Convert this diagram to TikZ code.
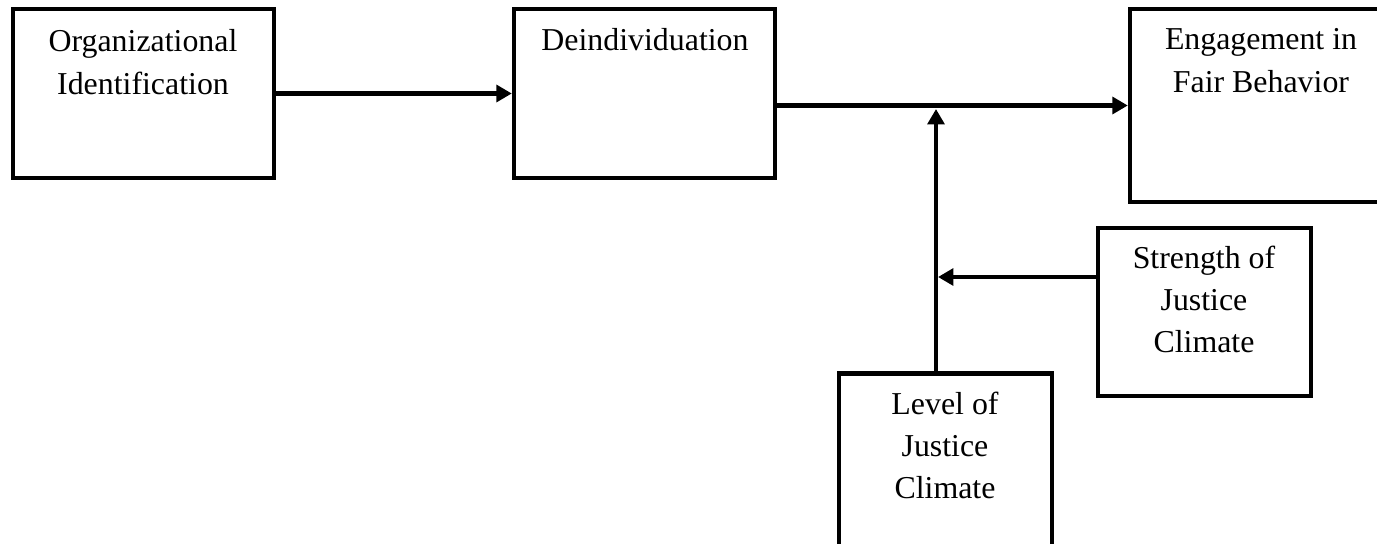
\documentclass[tikz,border=0pt]{standalone}
\usepackage{fontspec}
\setmainfont{Liberation Serif}
\usetikzlibrary{arrows.meta}
\begin{document}
\begin{tikzpicture}[x=0.75pt,y=-0.75pt,
  box/.style={draw=black,line width=3.3pt,inner sep=0pt,fill=none},
  lbl/.style={anchor=north,inner sep=0pt,align=center,font=\fontsize{23.9}{31.7}\selectfont},
  conn/.style={line width=3.3pt,-{Triangle[length=11.5pt,width=12.5pt]}}]
\clip (0,0) rectangle (1377,543);
\fill[white] (0,0) rectangle (1377,543);
% boxes
\node[box,minimum width=261*0.75pt,minimum height=169*0.75pt] (b1) at (143.5,93.5) {};
\node[box,minimum width=261*0.75pt,minimum height=169*0.75pt] (b2) at (644.5,93.5) {};
\node[box,minimum width=280*0.75pt,minimum height=193*0.75pt] (b3) at (1270,105.5) {};
\node[box,minimum width=213*0.75pt,minimum height=168*0.75pt] (b4) at (1204.5,312) {};
\node[box,minimum width=213*0.75pt,minimum height=180*0.75pt] (b5) at (945.5,463.5) {};
% labels
\node[lbl] (t1) at (143,29.5) {Organizational\\Identification};
\node[lbl] (t2) at (645,28.5) {Deindividuation};
\node[lbl] (t3) at (1261,28.5) {Engagement in\\Fair Behavior};
\node[lbl] (t4) at (1204,245.5) {Strength of\\Justice\\Climate};
\node[lbl] (t5) at (945,391.5) {Level of\\Justice\\Climate};
% connectors
\coordinate (tipV) at (936,109);
\coordinate (tipH) at (938,277);
\draw[conn] (b1.east) -- (b2.west);
\draw[conn] (b3.west -| b2.east) -- (b3.west);
\draw[conn] (b5.north -| tipV) -- (tipV);
\draw[conn] (b4.west |- tipH) -- (tipH);
\end{tikzpicture}
\end{document}
